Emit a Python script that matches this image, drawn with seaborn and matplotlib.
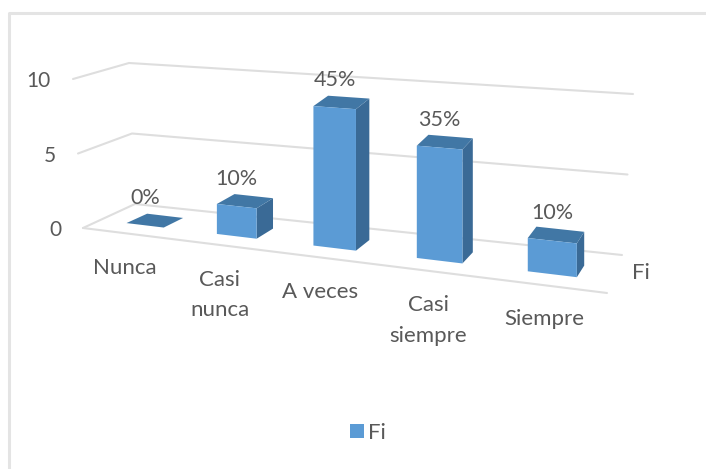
import numpy as np
import pandas as pd
import matplotlib.pyplot as plt
import seaborn as sns
from matplotlib.patches import Polygon
from matplotlib.transforms import Transform

categories = ["Nunca", "Casi\nnunca", "A veces", "Casi\nsiempre", "Siempre"]
fi_values = [0, 2, 9, 7, 2]
percent_labels = ["0%", "10%", "45%", "35%", "10%"]
y_ticks = [0, 5, 10]
series_name = "Fi"

BLUE = "#5B9BD5"
SIDE = "#3A6A96"
TOP = "#4177A5"
GRID = "#DEDEDE"
TEXT = "#595959"
BORDER = "#E4E4E4"
BAR_WIDTH = 0.42


def project(cat, val, depth=0.0):
    """Pixel position of a category / value / depth point in the tilted 3D view."""
    cat = np.asarray(cat, dtype=float)
    val = np.asarray(val, dtype=float)
    w = 1 - 0.0322 * cat
    x = (145 + 84 * cat) / w + depth * (20 - 3.0 * cat)
    y = (225.3 + 3.4 * cat - 14.6 * val) / w - depth * (9.5 + 0.5 * cat)
    return x, y


class FrontPlane(Transform):
    input_dims = 2
    output_dims = 2

    def transform_non_affine(self, values):
        x, y = project(values[:, 0], values[:, 1])
        return np.column_stack([x, y])


sns.set_theme(style="white")
plt.rcParams["font.family"] = ["Lato", "DejaVu Sans"]

fig = plt.figure(figsize=(7.06, 4.69), dpi=100)
ax = fig.add_axes([0, 0, 1, 1])

df = pd.DataFrame({"categoria": categories, "fi": fi_values})
sns.barplot(data=df, x="categoria", y="fi", color=BLUE, saturation=1, width=BAR_WIDTH,
            label=series_name, linewidth=0, edgecolor="none", ax=ax, zorder=4)

# axes work in image pixels, bars go through the 3D view
ax.set_xlim(0, 706)
ax.set_ylim(469, 0)
ax.axis("off")
for patch in ax.patches:
    patch.set_transform(FrontPlane() + ax.transData)
    patch.set_clip_on(False)

# back wall and side wall grid, each edge leans a little as it rises
for tick in y_ticks:
    xs = [83 - 1.0 * tick, 135 - 0.6 * tick, 622 + 1.1 * tick]
    ys = [228 - 14.9 * tick, 204 - 14.1 * tick, 255 - 16.1 * tick]
    ax.plot(xs, ys, color=GRID, lw=1.5, zorder=1)
    ax.text(xs[0] - 22, ys[0] + 2, str(tick), ha="right", va="center", fontsize=15, color=TEXT)

# front edge of the floor
ax.plot([83, 607], [228, 293], color=GRID, lw=1.5, zorder=1)

# side and top faces
half = BAR_WIDTH / 2
for i, val in enumerate(fi_values):
    l, r = i - half, i + half
    side = [project(r, 0, 0), project(r, 0, 1), project(r, val, 1), project(r, val, 0)]
    top = [project(l, val, 0), project(r, val, 0), project(r, val, 1), project(l, val, 1)]
    ax.add_patch(Polygon(np.array(side, dtype=float), closed=True, fc=SIDE, ec="none", zorder=3))
    ax.add_patch(Polygon(np.array(top, dtype=float), closed=True, fc=TOP, ec="none", zorder=3))

    lx, ly = project(i, val, 0)
    ax.text(lx, ly - 27.5, percent_labels[i], ha="center", va="center", fontsize=15.5,
            color=TEXT, zorder=6)

    cx, cy = project(i, 0, -1)
    ax.text(cx, cy + 23.5, categories[i], ha="center", va="top", fontsize=16, color=TEXT,
            linespacing=1.65)

ax.text(641, 273, series_name, ha="center", va="center", fontsize=16, color=TEXT)

ax.legend(loc="center", bbox_to_anchor=(368, 433), bbox_transform=ax.transData, frameon=False,
          fontsize=16, labelcolor=TEXT, handlelength=0.6, handleheight=0.6, handletextpad=0.2,
          borderpad=0)

# chart frame, only top and left show in the crop
ax.plot([9, 9, 706], [469, 13, 13], color=BORDER, lw=2.2, zorder=0)

plt.savefig("out.png", dpi=100)
plt.close()
